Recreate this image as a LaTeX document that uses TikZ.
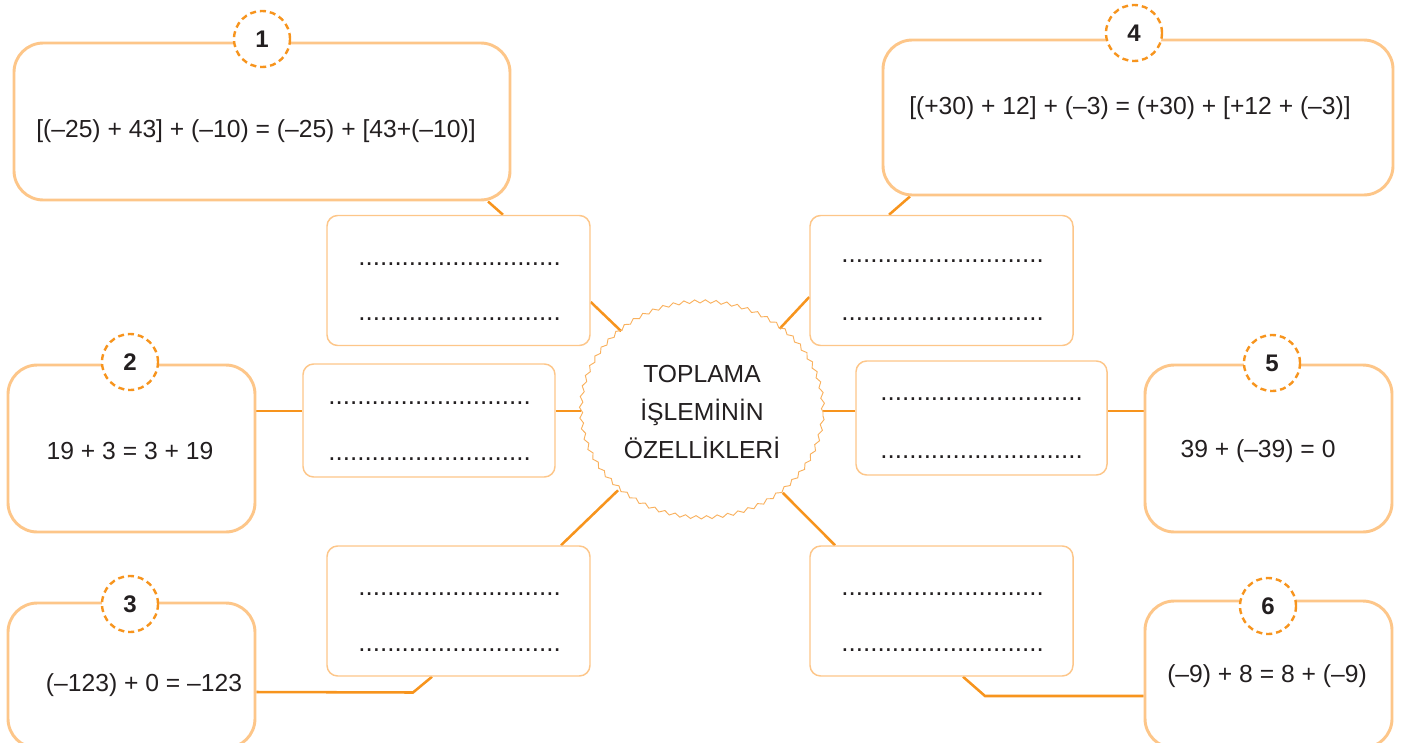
\documentclass[tikz,border=0pt]{standalone}
\usepackage{fontspec}
\setmainfont{Liberation Sans}
\usetikzlibrary{shapes.geometric,decorations.pathmorphing,calc,backgrounds}
\definecolor{lo}{HTML}{FDC689}
\definecolor{do}{HTML}{F7941D}
\definecolor{wv}{HTML}{F9B15E}
\definecolor{tx}{HTML}{231F20}
\newcommand\dotrow{............................}
\begin{document}
\begin{tikzpicture}[x=0.75pt,y=-0.75pt,
  bigbox/.style={draw=lo, line width=2.2pt, rounded corners=22pt, fill=white, inner sep=0pt},
  dotbox/.style={draw=lo, line width=1.1pt, rounded corners=8pt, fill=white, inner sep=0pt,
     minimum width=197.25pt, minimum height=97.5pt},
  numc/.style={circle, draw=do, dash pattern=on 4.5pt off 3pt, line width=1.8pt, fill=white,
     minimum size=42pt, inner sep=0pt, text=tx, font=\fontsize{18pt}{20pt}\selectfont\bfseries},
  eq/.style={text=tx, inner sep=0pt, font=\fontsize{18.5pt}{22pt}\selectfont},
  dotline/.style={text=tx, inner sep=0pt, anchor=base, font=\fontsize{19.5pt}{22pt}\selectfont},
  conn/.style={draw=do, line width=1.9pt},
  wavy/.style={draw=wv, line width=0.7pt, decorate, decoration={snake, amplitude=1.2pt, segment length=8pt}},
  hub/.style={ellipse, fill=white, minimum width=181.5pt, minimum height=162pt, inner sep=0pt,
     align=center, text=tx, font=\fontsize{18.5pt}{28.5pt}\selectfont}
]
\useasboundingbox (0,0) rectangle (1408,742);

% outer boxes
\node[bigbox, minimum width=372pt, minimum height=117.75pt] (b1) at (262,121.5) {};
\node[bigbox, minimum width=382.5pt, minimum height=116.25pt] (b4) at (1138,117.5) {};
\node[bigbox, minimum width=185.25pt, minimum height=125.25pt] (b2) at (131.5,448.5) {};
\node[bigbox, minimum width=185.25pt, minimum height=108.75pt] (b3) at (131.5,675.5) {};
\node[bigbox, minimum width=185.25pt, minimum height=125.25pt] (b5) at (1268.5,448.5) {};
\node[bigbox, minimum width=185.25pt, minimum height=110.25pt] (b6) at (1268.5,674.5) {};

% number circles
\node[numc] (n1) at (262,39) {1};
\node[numc] (n4) at (1134,33) {4};
\node[numc] (n2) at (130,362) {2};
\node[numc] (n3) at (130,604) {3};
\node[numc] (n5) at (1272,363) {5};
\node[numc] (n6) at (1268,606) {6};

% equations
\node[eq] (t1) at (256,131) {[(–25) + 43] + (–10) = (–25) + [43+(–10)]};
\node[eq] (t4) at (1130,108) {[(+30) + 12] + (–3) = (+30) + [+12 + (–3)]};
\node[eq] (t2) at (130,451) {19 + 3 = 3 + 19};
\node[eq] (t3) at (144,685) {(–123) + 0 = –123};
\node[eq] (t5) at (1258,451) {39 + (–39) = 0};
\node[eq] (t6) at (1267,676) {(–9) + 8 = 8 + (–9)};

% answer boxes
\node[dotbox] (d1) at (458.5,280.5) {};
\node[dotbox, minimum width=189pt, minimum height=84.75pt] (d2) at (429,420.5) {};
\node[dotbox] (d3) at (458.5,611) {};
\node[dotbox] (d4) at (941.5,280.5) {};
\node[dotbox, minimum width=188.25pt, minimum height=85.5pt] (d5) at (981.5,418) {};
\node[dotbox] (d6) at (941.5,611) {};

\node[dotline] (d1a) at (459.5,265) {\dotrow};
\node[dotline] (d1b) at (459.5,320) {\dotrow};
\node[dotline] (d2a) at (429.5,404) {\dotrow};
\node[dotline] (d2b) at (429.5,460) {\dotrow};
\node[dotline] (d3a) at (459.5,595) {\dotrow};
\node[dotline] (d3b) at (459.5,651) {\dotrow};
\node[dotline] (d4a) at (942.5,262) {\dotrow};
\node[dotline] (d4b) at (942.5,320) {\dotrow};
\node[dotline] (d5a) at (981.5,400) {\dotrow};
\node[dotline] (d5b) at (981.5,458) {\dotrow};
\node[dotline] (d6a) at (942.5,595) {\dotrow};
\node[dotline] (d6b) at (942.5,651) {\dotrow};

% centre
\node[hub] (ctr) at (702,412) {TOPLAMA\\İŞLEMİNİN\\ÖZELLİKLERİ};
\draw[wavy] (ctr.center) ellipse [x radius=90.75pt, y radius=81pt];

% connectors
\begin{scope}[on background layer]
  \draw[conn] ($(b1.south)+(226,0)$) -- ($(d1.north)+(44.5,0)$);
  \draw[conn] ($(d1.east)+(0,21.5)$) -- (ctr.135);
  \draw[conn] ($(b2.east)+(0,-37.5)$) coordinate (p2) -- (p2 -| d2.west);
  \draw[conn] (p2 -| d2.east) -- (p2 -| ctr.west);
  \draw[conn] ($(b3.east)+(0,16.5)$) -- (413,692.5) -- ($(d3.south)+(-26.5,0)$);
  \draw[conn] ($(d3.north)+(102.5,0)$) -- (ctr.223);
  \draw[conn] ($(b4.south)+(-228,0)$) -- ($(d4.north)+(-52.5,0)$);
  \draw[conn] ($(d4.west)+(0,16.5)$) -- (ctr.47.5);
  \draw[conn] ($(b5.west)+(0,-37.5)$) coordinate (p5) -- (p5 -| d5.east);
  \draw[conn] (p5 -| d5.west) -- (p5 -| ctr.east);
  \draw[conn] ($(d6.north)+(-106.5,0)$) -- (ctr.315);
  \draw[conn] ($(b6.west)+(0,21.5)$) -- (985,696) -- ($(d6.south)+(21.5,0)$);
\end{scope}
\end{tikzpicture}
\end{document}
